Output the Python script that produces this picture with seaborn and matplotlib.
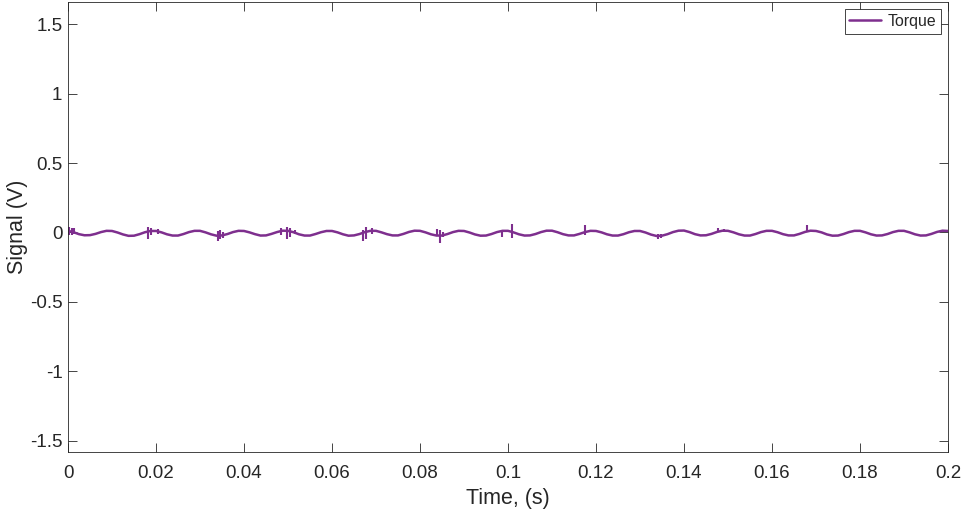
import numpy as np
import pandas as pd
import matplotlib
matplotlib.use("Agg")
import matplotlib.pyplot as plt
import seaborn as sns

# Torque channel, sampled every 1.25 ms (8 samples per 10 ms ripple cycle)
sample_step = 0.00125
torque_cycles = [
    [0.012, 0.002, -0.012, -0.020, -0.019, -0.010, 0.003, 0.012],
    [0.011, 0.000, -0.014, -0.024, -0.023, -0.012, 0.002, 0.011],
    [0.011, 0.001, -0.013, -0.022, -0.022, -0.011, 0.003, 0.012],
    [0.012, 0.001, -0.013, -0.023, -0.021, -0.011, 0.003, 0.012],
    [0.011, 0.001, -0.012, -0.022, -0.021, -0.010, 0.003, 0.013],
    [0.012, 0.002, -0.013, -0.022, -0.022, -0.011, 0.002, 0.011],
    [0.011, 0.001, -0.013, -0.023, -0.021, -0.011, 0.003, 0.012],
    [0.012, 0.001, -0.012, -0.021, -0.021, -0.010, 0.004, 0.013],
    [0.012, 0.001, -0.013, -0.022, -0.022, -0.011, 0.003, 0.012],
    [0.011, 0.000, -0.014, -0.023, -0.022, -0.011, 0.003, 0.012],
    [0.012, 0.001, -0.013, -0.022, -0.021, -0.011, 0.003, 0.013],
    [0.013, 0.002, -0.012, -0.021, -0.021, -0.010, 0.003, 0.012],
    [0.011, 0.001, -0.013, -0.022, -0.022, -0.012, 0.002, 0.011],
    [0.011, 0.000, -0.015, -0.025, -0.023, -0.012, 0.003, 0.013],
    [0.014, 0.003, -0.012, -0.021, -0.020, -0.010, 0.004, 0.013],
    [0.012, 0.001, -0.013, -0.022, -0.022, -0.011, 0.003, 0.012],
    [0.012, 0.002, -0.012, -0.021, -0.021, -0.010, 0.004, 0.013],
    [0.011, 0.001, -0.014, -0.023, -0.022, -0.011, 0.003, 0.012],
    [0.012, 0.001, -0.013, -0.022, -0.021, -0.011, 0.003, 0.012],
    [0.012, 0.001, -0.013, -0.022, -0.021, -0.010, 0.004, 0.013],
]
torque_last = 0.011

# Switching transients: time (s), lowest and highest excursion (V)
spike_time = [0.0003, 0.0008, 0.0014,
              0.0181, 0.0188, 0.0205,
              0.0340, 0.0346, 0.0352,
              0.0483, 0.0497, 0.0505, 0.0515,
              0.0671, 0.0678, 0.0690,
              0.0838, 0.0845, 0.0852,
              0.0987, 0.1008,
              0.1175,
              0.1340, 0.1347,
              0.1478, 0.1492,
              0.1680]
spike_low = [-0.020, -0.015, -0.010,
             -0.045, -0.020, -0.010,
             -0.058, -0.050, -0.040,
             -0.020, -0.046, -0.030, -0.010,
             -0.058, -0.050, -0.010,
             -0.020, -0.077, -0.030,
             -0.035, -0.040,
             -0.020,
             -0.050, -0.040,
             0.000, 0.000,
             0.000]
spike_high = [0.036, 0.030, 0.035,
              0.038, 0.030, 0.025,
              0.010, 0.020, 0.000,
              0.030, 0.038, 0.030, 0.020,
              0.020, 0.038, 0.030,
              0.025, 0.020, 0.000,
              0.000, 0.058,
              0.055,
              -0.010, -0.010,
              0.030, 0.025,
              0.055]

x_ticks = [0, 0.02, 0.04, 0.06, 0.08, 0.1, 0.12, 0.14, 0.16, 0.18, 0.2]
x_tick_labels = ["0", "0.02", "0.04", "0.06", "0.08", "0.1", "0.12", "0.14", "0.16", "0.18", "0.2"]
y_ticks = [-1.5, -1, -0.5, 0, 0.5, 1, 1.5]
y_tick_labels = ["-1.5", "-1", "-0.5", "0", "0.5", "1", "1.5"]

torque = [v for cyc in torque_cycles for v in cyc] + [torque_last]
time = np.arange(len(torque)) * sample_step
df = pd.DataFrame({"Time": time, "Torque": torque})

sns.set_theme(style="white")
plt.rcParams["font.family"] = ["Liberation Sans", "DejaVu Sans"]

ink = "#262626"
purple = "#7E2F8E"

fig = plt.figure(figsize=(9.62, 5.11), dpi=100)
ax = fig.add_axes([68 / 962, (511 - 452.3) / 511, 880 / 962, 450.3 / 511])

sns.lineplot(data=df, x="Time", y="Torque", ax=ax, color=purple,
             linewidth=1.8, estimator=None, sort=False, label="Torque")
ax.vlines(spike_time, spike_low, spike_high, color=purple, linewidth=1.5)

ax.set_xlim(0, 0.2)
ax.set_ylim(-1.582, 1.659)
ax.set_xticks(x_ticks)
ax.set_xticklabels(x_tick_labels)
ax.set_yticks(y_ticks)
ax.set_yticklabels(y_tick_labels)

ax.tick_params(axis="both", which="both", direction="in", length=6.5, width=0.6,
               color=ink, labelcolor=ink, labelsize=13.5,
               top=True, right=True, bottom=True, left=True)
ax.tick_params(axis="x", pad=9.2)
ax.tick_params(axis="y", pad=4)

for s in ax.spines.values():
    s.set_visible(True)
    s.set_color(ink)
    s.set_linewidth(0.6)

ax.set_xlabel("Time, (s)", fontsize=15.5, color=ink, labelpad=4)
ax.set_ylabel("Signal (V)", fontsize=15.5, color=ink, labelpad=1)
ax.grid(False)

leg = ax.legend(loc="upper right", fontsize=11.4, frameon=True, fancybox=False,
                borderaxespad=0.45, handlelength=2.0, handletextpad=0.4,
                borderpad=0.3, labelcolor=ink)
leg.get_frame().set_edgecolor(ink)
leg.get_frame().set_linewidth(0.6)
leg.get_frame().set_facecolor("white")
leg.get_frame().set_alpha(1)

fig.savefig("out.png", dpi=100, facecolor="white")
